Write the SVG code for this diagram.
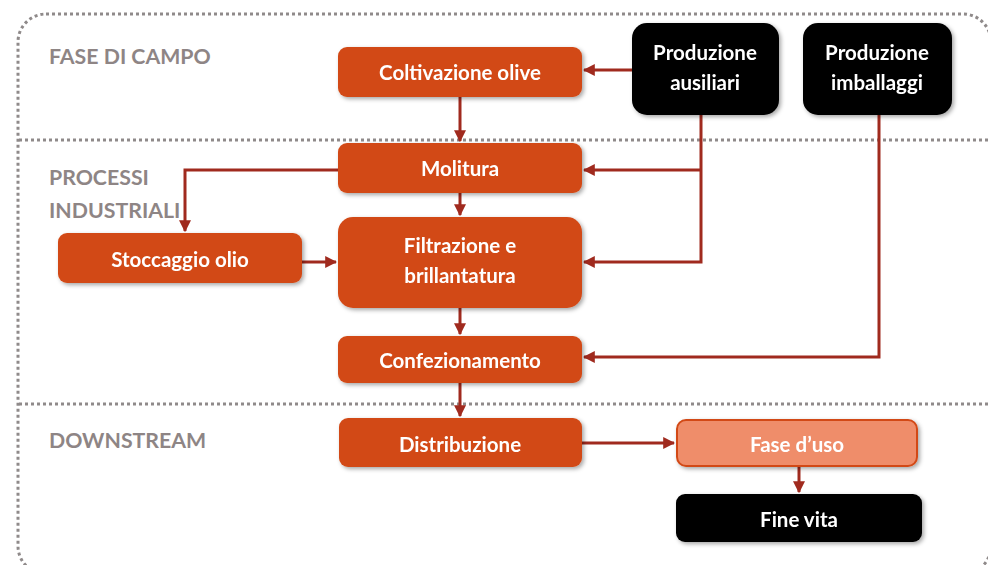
<svg xmlns="http://www.w3.org/2000/svg" width="988" height="565" viewBox="0 0 988 565">
<style>
.frame{fill:none;stroke:#8f8a8a;stroke-width:3;stroke-dasharray:3 3}
.sec{font-family:Lato,"Liberation Sans",sans-serif;font-weight:bold;font-size:21.3px;fill:#8e8585}
.o{fill:#d24a17}
.b{fill:#000}
.u{fill:#ef8d6b;stroke:#d24a17;stroke-width:2}
.t{font-family:Lato,"Liberation Sans",sans-serif;font-weight:bold;font-size:20.5px;fill:#fff;text-anchor:middle}
.c{fill:none;stroke:#a02a1e;stroke-width:3}
</style>
<defs>
<filter id="sh" x="-10%" y="-20%" width="130%" height="150%">
<feDropShadow dx="2" dy="2" stdDeviation="2" flood-color="#000" flood-opacity="0.35"/>
</filter>
<marker id="ah" viewBox="0 0 10 10" refX="9" refY="5" markerWidth="4" markerHeight="4" orient="auto" markerUnits="strokeWidth">
<path d="M0,0 L10,5 L0,10 z" fill="#a02a1e"/>
</marker>
</defs>
<rect class="frame" x="18" y="14" width="973" height="560" rx="28"/>
<line class="frame" x1="19" y1="140" x2="988" y2="140"/>
<line class="frame" x1="19" y1="404" x2="988" y2="404"/>
<text class="sec" x="49" y="64">FASE DI CAMPO</text>
<text class="sec" x="49" y="185">PROCESSI</text>
<text class="sec" x="49" y="218">INDUSTRIALI</text>
<text class="sec" x="49" y="448">DOWNSTREAM</text>
<g id="connectors">
<path class="c" d="M460,97 V141" marker-end="url(#ah)"/>
<path class="c" d="M632,70 H584" marker-end="url(#ah)"/>
<path class="c" d="M701,115 V262 H584" marker-end="url(#ah)"/>
<path class="c" d="M701,170 H584" marker-end="url(#ah)"/>
<path class="c" d="M879,115 V357 H584" marker-end="url(#ah)"/>
<path class="c" d="M338,170 H185 V231" marker-end="url(#ah)"/>
<path class="c" d="M302,262 H336" marker-end="url(#ah)"/>
<path class="c" d="M460,193 V215" marker-end="url(#ah)"/>
<path class="c" d="M460,308 V334" marker-end="url(#ah)"/>
<path class="c" d="M460,383 V416" marker-end="url(#ah)"/>
<path class="c" d="M582,443 H674" marker-end="url(#ah)"/>
<path class="c" d="M799,467 V492" marker-end="url(#ah)"/>
</g>
<g id="coltivazione" filter="url(#sh)"><rect class="o" x="338" y="47" width="244" height="50" rx="9"/><text class="t" x="460" y="80">Coltivazione olive</text></g>
<g id="ausiliari" filter="url(#sh)"><rect class="b" x="632" y="23" width="147" height="92" rx="15"/><text class="t" x="705" y="60">Produzione</text><text class="t" x="705" y="90">ausiliari</text></g>
<g id="imballaggi" filter="url(#sh)"><rect class="b" x="803" y="23" width="149" height="92" rx="15"/><text class="t" x="877" y="60">Produzione</text><text class="t" x="877" y="90">imballaggi</text></g>
<g id="molitura" filter="url(#sh)"><rect class="o" x="338" y="143" width="244" height="50" rx="9"/><text class="t" x="460" y="176">Molitura</text></g>
<g id="filtrazione" filter="url(#sh)"><rect class="o" x="338" y="217" width="244" height="91" rx="15"/><text class="t" x="460" y="253">Filtrazione e</text><text class="t" x="460" y="283">brillantatura</text></g>
<g id="stoccaggio" filter="url(#sh)"><rect class="o" x="58" y="233" width="244" height="50" rx="9"/><text class="t" x="180" y="267">Stoccaggio olio</text></g>
<g id="confezionamento" filter="url(#sh)"><rect class="o" x="338" y="336" width="244" height="47" rx="9"/><text class="t" x="460" y="368">Confezionamento</text></g>
<g id="distribuzione" filter="url(#sh)"><rect class="o" x="339" y="418" width="243" height="49" rx="9"/><text class="t" x="460" y="452">Distribuzione</text></g>
<g id="fase-uso" filter="url(#sh)"><rect class="u" x="677" y="420" width="240" height="46" rx="9"/><text class="t" x="797" y="452">Fase d’uso</text></g>
<g id="fine-vita" filter="url(#sh)"><rect class="b" x="676" y="494" width="246" height="48" rx="9"/><text class="t" x="799" y="527">Fine vita</text></g>
</svg>
